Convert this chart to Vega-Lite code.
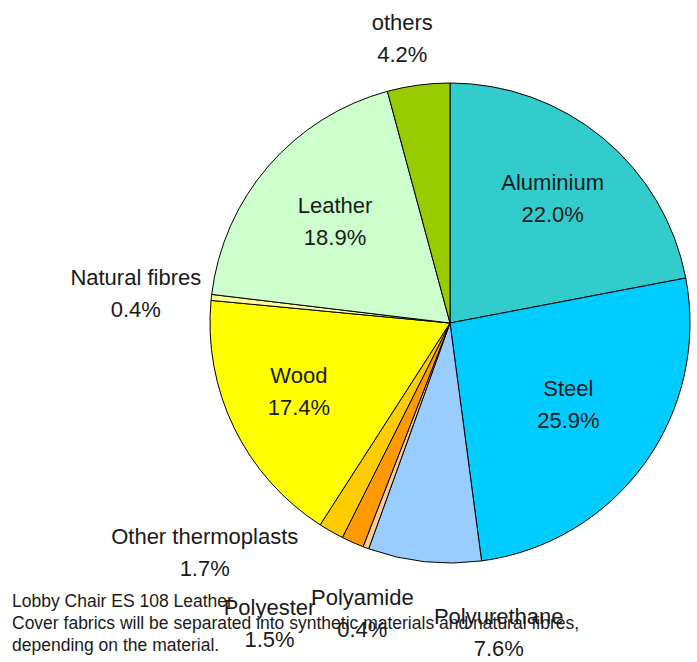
{
  "$schema": "https://vega.github.io/schema/vega-lite/v6.json",
  "width": 480,
  "height": 480,
  "autosize": {"type": "none"},
  "padding": {"left": 210, "top": 83, "right": 7, "bottom": 99},
  "background": "#ffffff",
  "view": {"stroke": null},
  "config": {
    "text": {"font": "Liberation Sans", "fontSize": 22, "lineHeight": 32, "align": "center", "baseline": "middle", "color": "#1a1a1a"}
  },
  "title": {
    "text": ["Lobby Chair ES 108 Leather", "Cover fabrics will be separated into synthetic materials and natural fibres,", "depending on the material."],
    "orient": "bottom",
    "anchor": "start",
    "frame": "group",
    "offset": -67,
    "dx": -198,
    "font": "Liberation Sans",
    "fontSize": 17.5,
    "fontWeight": "normal",
    "lineHeight": 22,
    "color": "#1a1a1a"
  },
  "data": {
    "values": [
      {"material": "Aluminium", "share": 22.0, "idx": 1},
      {"material": "Steel", "share": 25.9, "idx": 2},
      {"material": "Polyurethane", "share": 7.6, "idx": 3},
      {"material": "Polyamide", "share": 0.4, "idx": 4},
      {"material": "Polyester", "share": 1.5, "idx": 5},
      {"material": "Other thermoplasts", "share": 1.7, "idx": 6},
      {"material": "Wood", "share": 17.4, "idx": 7},
      {"material": "Natural fibres", "share": 0.4, "idx": 8},
      {"material": "Leather", "share": 18.9, "idx": 9},
      {"material": "others", "share": 4.2, "idx": 10}
    ]
  },
  "transform": [
    {"stack": "share", "groupby": [], "sort": [{"field": "idx", "order": "ascending"}], "as": ["s0", "s1"]},
    {"calculate": "(datum.s0 + datum.s1) / 2", "as": "mid"},
    {"calculate": "[datum.material, format(datum.share, '.1f') + '%']", "as": "label"}
  ],
  "layer": [
    {
      "mark": {"type": "arc", "outerRadius": 240, "stroke": "#000000", "strokeWidth": 1},
      "encoding": {
        "theta": {"field": "s0", "type": "quantitative", "scale": {"domain": [0, 100]}, "stack": null},
        "theta2": {"field": "s1"},
        "color": {
          "field": "material",
          "type": "nominal",
          "scale": {
            "domain": ["Aluminium", "Steel", "Polyurethane", "Polyamide", "Polyester", "Other thermoplasts", "Wood", "Natural fibres", "Leather", "others"],
            "range": ["#33CCCC", "#00CCFF", "#99CCFF", "#FFCC99", "#FF9900", "#FFCC00", "#FFFF00", "#FFFF99", "#CCFFCC", "#99CC00"]
          },
          "legend": null
        }
      }
    },
    {
      "transform": [{"filter": "datum.material === 'Aluminium'"}],
      "mark": {"type": "text", "radius": 161, "dy": -16},
      "encoding": {
        "theta": {"field": "mid", "type": "quantitative", "scale": {"domain": [0, 100]}, "stack": null},
        "text": {"field": "label"}
      }
    },
    {
      "transform": [{"filter": "datum.material === 'Leather'"}],
      "mark": {"type": "text", "radius": 152, "dy": -18},
      "encoding": {
        "theta": {"field": "mid", "type": "quantitative", "scale": {"domain": [0, 100]}, "stack": null},
        "text": {"field": "label"}
      }
    },
    {
      "transform": [{"filter": "datum.material === 'Steel'"}],
      "mark": {"type": "text", "radius": 146, "dy": -19},
      "encoding": {
        "theta": {"field": "mid", "type": "quantitative", "scale": {"domain": [0, 100]}, "stack": null},
        "text": {"field": "label"}
      }
    },
    {
      "transform": [{"filter": "datum.material === 'Wood'"}],
      "mark": {"type": "text", "radius": 168, "dy": -20},
      "encoding": {
        "theta": {"field": "mid", "type": "quantitative", "scale": {"domain": [0, 100]}, "stack": null},
        "text": {"field": "label"}
      }
    },
    {
      "transform": [{"filter": "datum.material === 'others'"}],
      "mark": {"type": "text", "radius": 287, "dx": -10, "dy": -15},
      "encoding": {
        "theta": {"field": "mid", "type": "quantitative", "scale": {"domain": [0, 100]}, "stack": null},
        "text": {"field": "label"}
      }
    },
    {
      "transform": [{"filter": "datum.material === 'Natural fibres'"}],
      "mark": {"type": "text", "radius": 316, "dy": -11},
      "encoding": {
        "theta": {"field": "mid", "type": "quantitative", "scale": {"domain": [0, 100]}, "stack": null},
        "text": {"field": "label"}
      }
    },
    {
      "transform": [{"filter": "datum.material === 'Other thermoplasts'"}],
      "mark": {"type": "text", "radius": 265, "dx": -114, "dy": -16},
      "encoding": {
        "theta": {"field": "mid", "type": "quantitative", "scale": {"domain": [0, 100]}, "stack": null},
        "text": {"field": "label"}
      }
    },
    {
      "transform": [{"filter": "datum.material === 'Polyester'"}],
      "mark": {"type": "text", "radius": 329, "dx": -47, "dy": -16},
      "encoding": {
        "theta": {"field": "mid", "type": "quantitative", "scale": {"domain": [0, 100]}, "stack": null},
        "text": {"field": "label"}
      }
    },
    {
      "transform": [{"filter": "datum.material === 'Polyamide'"}],
      "mark": {"type": "text", "radius": 310, "dx": 21, "dy": -15},
      "encoding": {
        "theta": {"field": "mid", "type": "quantitative", "scale": {"domain": [0, 100]}, "stack": null},
        "text": {"field": "label"}
      }
    },
    {
      "transform": [{"filter": "datum.material === 'Polyurethane'"}],
      "mark": {"type": "text", "radius": 312, "dx": 82, "dy": -16},
      "encoding": {
        "theta": {"field": "mid", "type": "quantitative", "scale": {"domain": [0, 100]}, "stack": null},
        "text": {"field": "label"}
      }
    }
  ]
}
